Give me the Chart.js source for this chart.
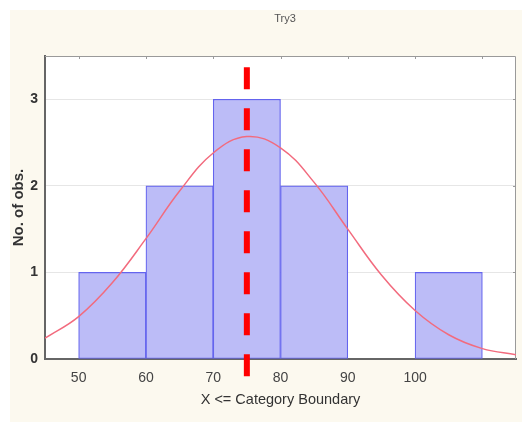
<!DOCTYPE html>
<html>
<head>
<meta charset="utf-8">
<script src="https://cdn.jsdelivr.net/npm/chart.js@4.4.1/dist/chart.umd.min.js"></script>
<style>
  html, body { margin: 0; padding: 0; background: #fff; }
  #box { position: absolute; left: 10px; top: 10px; width: 512px; height: 412px; background: #fcf9ef; }
  canvas { display: block; }
</style>
</head>
<body>
<div id="box"><canvas id="myChart" width="512" height="412"></canvas></div>
<script>
// values
const chartTitle = "Try3";
const binStart = [50, 60, 70, 80, 90, 100];
const binCount = [1, 2, 3, 2, 0, 1];
const binWidth = 10;
const curveX = [45, 50, 55, 60, 65, 70, 75, 80, 85, 90, 95, 100, 105, 110, 115];
const curveY = [0.24, 0.49, 0.88, 1.39, 1.94, 2.38, 2.57, 2.44, 2.04, 1.50, 0.97, 0.56, 0.28, 0.12, 0.05];
const markerX = 75;
const markerTop = 3.37;
const markerBottom = -0.21;
const xTicks = [50, 60, 70, 80, 90, 100, 110];
const xTickLabels = ["50", "60", "70", "80", "90", "100", ""];
const yTicks = [0, 1, 2, 3];

const FONT = '"Liberation Sans", Arial, sans-serif';

var bars = binStart.map((s, i) => ({ x: s + binWidth / 2, y: binCount[i] || null }));
var curve = curveX.map((x, i) => ({ x: x, y: curveY[i] }));

// white plot area
var plotBg = {
  id: "plotBg",
  beforeDraw(chart) {
    const { ctx, chartArea: a } = chart;
    ctx.save();
    ctx.fillStyle = "#ffffff";
    ctx.fillRect(a.left, a.top, a.right - a.left, a.bottom - a.top);
    ctx.restore();
  }
};

// top/right frame with small inside ticks + the little title
var frame = {
  id: "frame",
  beforeDatasetsDraw(chart) {
    const { ctx, chartArea: a, scales } = chart;
    ctx.save();
    ctx.strokeStyle = "#9a9a9a";
    ctx.lineWidth = 1;
    ctx.beginPath();
    ctx.moveTo(a.left, a.top + 0.5);
    ctx.lineTo(a.right - 0.5, a.top + 0.5);
    ctx.lineTo(a.right - 0.5, a.bottom);
    xTicks.forEach((v) => {
      let px = Math.round(scales.x.getPixelForValue(v)) + 0.5;
      ctx.moveTo(px, a.top);
      ctx.lineTo(px, a.top + 3);
    });
    yTicks.slice(1).forEach((v) => {
      let py = Math.round(scales.y.getPixelForValue(v)) + 0.5;
      ctx.moveTo(a.right, py);
      ctx.lineTo(a.right - 3, py);
    });
    ctx.stroke();
    ctx.fillStyle = "#555";
    ctx.font = "11px " + FONT;
    ctx.textAlign = "center";
    ctx.textBaseline = "middle";
    ctx.fillText(chartTitle, 275, 9);
    ctx.restore();
  }
};

var ctx = document.getElementById("myChart");
var myChart = new Chart(ctx, {
  type: "bar",
  data: {
    datasets: [
      {
        type: "line",
        data: [{ x: markerX, y: markerTop }, { x: markerX, y: markerBottom }],
        borderColor: "#ff0000",
        borderWidth: 6,
        borderDash: [22, 19],
        borderCapStyle: "butt",
        pointRadius: 0,
        clip: false,
        order: 0,
      },
      {
        type: "line",
        data: curve,
        borderColor: "#f26b7e",
        borderWidth: 1.5,
        tension: 0.4,
        pointRadius: 0,
        order: 1,
      },
      {
        data: bars,
        backgroundColor: "#bcbcf7",
        borderColor: "#6464ee",
        borderWidth: 1.2,
        borderSkipped: false,
        barPercentage: 1,
        categoryPercentage: 1,
        order: 2,
      },
    ],
  },
  options: {
    responsive: false,
    animation: false,
    layout: { padding: { top: 46, right: 6, left: 0, bottom: 0 } },
    plugins: { legend: { display: false }, tooltip: { enabled: false } },
    scales: {
      x: {
        type: "linear",
        min: 45,
        max: 115,
        offset: false,
        afterFit: (scale) => { scale.height = 63; },
        afterBuildTicks: (scale) => { scale.ticks = xTicks.map((v) => ({ value: v })); },
        ticks: {
          callback: (v) => xTickLabels[xTicks.indexOf(v)],
          font: { size: 14, family: FONT },
          color: "#444",
          padding: 3,
          maxRotation: 0,
          autoSkip: false,
        },
        grid: { display: false, offset: false },
        border: { color: "#666", width: 2 },
        title: {
          display: true,
          text: "X <= Category Boundary",
          font: { size: 14.5, family: FONT },
          color: "#333",
          padding: { top: 0, bottom: 13 },
        },
      },
      y: {
        min: 0,
        max: 3.5,
        afterFit: (scale) => { scale.width = 35; },
        afterBuildTicks: (scale) => { scale.ticks = yTicks.map((v) => ({ value: v })); },
        ticks: {
          font: { size: 14, weight: "bold", family: FONT },
          color: "#333",
          padding: 7,
        },
        grid: {
          drawTicks: false,
          color: (c) => (c.tick && c.tick.value === 0 ? "rgba(0,0,0,0)" : "#e6e6e6"),
        },
        border: { color: "#666", width: 2 },
        title: {
          display: true,
          text: "No. of obs.",
          font: { size: 15, weight: "bold", family: FONT },
          color: "#333",
          padding: { top: 0, bottom: 0 },
        },
      },
    },
  },
  plugins: [plotBg, frame],
});
</script>
</body>
</html>
